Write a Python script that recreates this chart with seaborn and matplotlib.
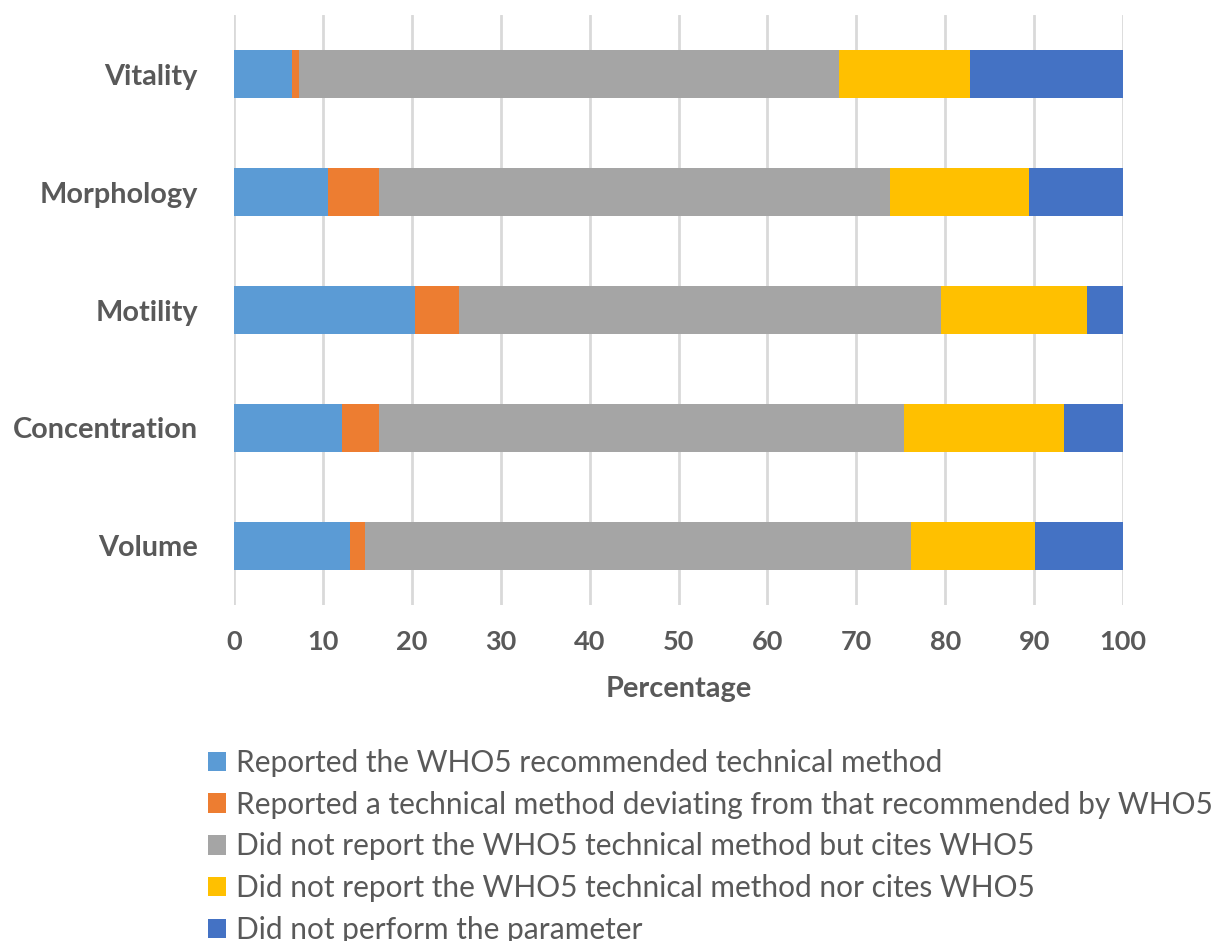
import pandas as pd
import matplotlib
matplotlib.use("Agg")
import matplotlib.pyplot as plt
import seaborn as sns
from matplotlib.patches import Patch

# data (percent of studies)
parameters = ["Vitality", "Morphology", "Motility", "Concentration", "Volume"]
series_names = [
    "Reported the WHO5 recommended technical method",
    "Reported a technical method deviating from that recommended by WHO5",
    "Did not report the WHO5 technical method but cites WHO5",
    "Did not report the WHO5 technical method nor cites WHO5",
    "Did not perform the parameter",
]
reported_who5 = [6.5, 10.6, 20.4, 12.2, 13.1]
deviating = [0.8, 5.7, 4.9, 4.1, 1.6]
cites_only = [60.7, 57.5, 54.2, 59.1, 61.5]
no_cite = [14.8, 15.6, 16.4, 18.0, 13.9]
not_performed = [17.2, 10.6, 4.1, 6.6, 9.9]
colors = ["#5B9BD5", "#ED7D31", "#A5A5A5", "#FFC000", "#4472C4"]

text_color = "#595959"

sns.set_theme(style="white")
plt.rcParams["font.family"] = ["Lato", "DejaVu Sans"]

df = pd.DataFrame(
    {
        "Parameter": parameters,
        series_names[0]: reported_who5,
        series_names[1]: deviating,
        series_names[2]: cites_only,
        series_names[3]: no_cite,
        series_names[4]: not_performed,
    }
).set_index("Parameter")
cum = df.cumsum(axis=1)

fig = plt.figure(figsize=(12.25, 9.41), dpi=100)
ax = fig.add_axes([234 / 1225, 1 - 605 / 941, (1123 - 234) / 1225, 590 / 941])

# stacked bars: draw cumulative totals from the largest down
for name, color in reversed(list(zip(series_names, colors))):
    sns.barplot(
        x=cum[name].values,
        y=parameters,
        order=parameters,
        color=color,
        width=0.4,
        linewidth=0,
        saturation=1,
        ax=ax,
        zorder=3,
    )

ax.set_xlim(0, 100)
ax.set_ylim(4.5, -0.5)
ax.set_xticks(range(0, 101, 10))
ax.grid(axis="x", color="#D9D9D9", linewidth=2, zorder=0)
ax.grid(axis="y", visible=False)
for s in ax.spines.values():
    s.set_visible(False)
ax.tick_params(axis="both", length=0)
ax.tick_params(axis="y", pad=26, labelsize=20.8, labelcolor=text_color)
ax.tick_params(axis="x", pad=18, labelsize=19.5, labelcolor=text_color)
for lab in ax.get_xticklabels() + ax.get_yticklabels():
    lab.set_fontweight("bold")
ax.set_ylabel("")
ax.set_xlabel("Percentage", fontsize=20.8, fontweight="bold", color=text_color, labelpad=16)

handles = [Patch(facecolor=c, edgecolor="none") for c in colors]
fig.legend(
    handles,
    series_names,
    loc="upper left",
    bbox_to_anchor=(196 / 1225, 1 - 737 / 941),
    frameon=False,
    fontsize=21.5,
    labelcolor=text_color,
    handlelength=0.62,
    handleheight=0.62,
    handletextpad=0.33,
    labelspacing=0.46,
    borderaxespad=0,
)

fig.savefig("out.png", dpi=100)
